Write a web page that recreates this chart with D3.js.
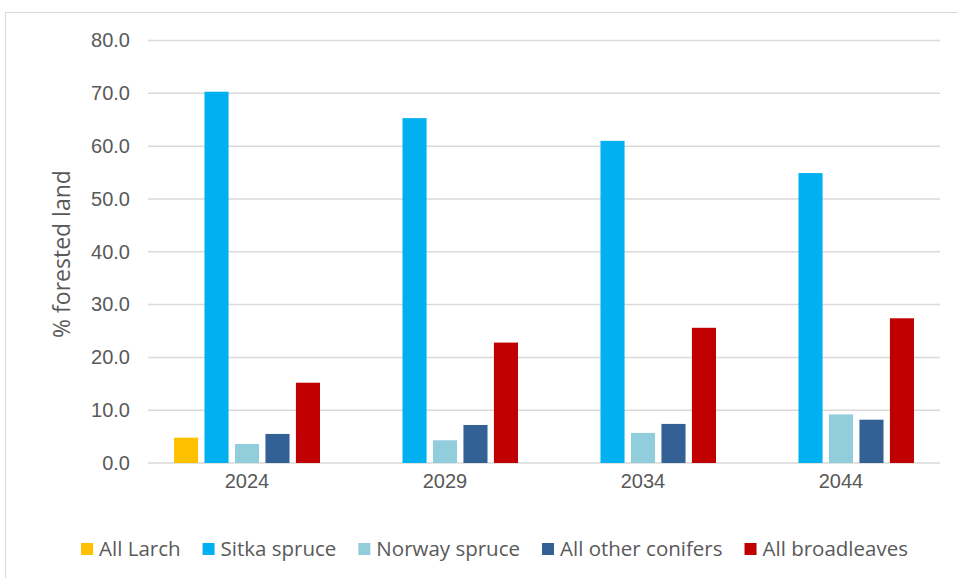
<!DOCTYPE html>
<html>
<head>
<meta charset="utf-8">
<script src="https://cdn.jsdelivr.net/npm/d3@7"></script>
<style>
	body { margin: 0; background: #fff; }
	svg { display: block; font-family: 'Open Sans', 'Noto Sans', sans-serif; }
</style>
</head>
<body>
<div id="chart"></div>
<script>
// Chart data
var years = ['2024', '2029', '2034', '2044'];
var species = ['All Larch', 'Sitka spruce', 'Norway spruce', 'All other conifers', 'All broadleaves'];
var colors = ['#ffc000', '#00b0f0', '#92cddc', '#336195', '#c00000'];
var larch = [4.8, 0, 0, 0];
var sitka = [70.3, 65.3, 61.0, 54.9];
var norway = [3.6, 4.3, 5.7, 9.2];
var otherConifers = [5.5, 7.2, 7.4, 8.2];
var broadleaves = [15.2, 22.8, 25.6, 27.4];
var yTicks = [0, 10, 20, 30, 40, 50, 60, 70, 80];

var seriesValues = [larch, sitka, norway, otherConifers, broadleaves];

(function() {
	var width = 958, height = 578;
	var margin = { top: 40.5, left: 148, right: 18, bottom: 115 };
	var innerW = width - margin.left - margin.right,
		innerH = height - margin.top - margin.bottom;

	var svg = d3.select('#chart').append('svg')
		.attr('width', width)
		.attr('height', height);

	// Chart frame
	svg.append('rect')
		.attr('x', 5.5).attr('y', 12.5)
		.attr('width', 1000).attr('height', 700)
		.attr('fill', 'none')
		.attr('stroke', '#d9d9d9');

	var g = svg.append('g')
		.attr('transform', 'translate(' + margin.left + ',' + margin.top + ')');

	var x0 = d3.scaleBand().domain(years).range([0, innerW]).paddingInner(0).paddingOuter(0);
	var groupW = 146;
	var x1 = d3.scaleBand().domain(species)
		.range([(x0.bandwidth() - groupW) / 2, (x0.bandwidth() + groupW) / 2])
		.paddingInner(0.21);
	var y = d3.scaleLinear().domain([0, 80]).range([innerH, 0]);

	// Grid lines
	g.append('g')
		.selectAll('line')
		.data(yTicks)
		.enter().append('line')
		.attr('x1', 0).attr('x2', innerW)
		.attr('y1', function(d) { return y(d); })
		.attr('y2', function(d) { return y(d); })
		.attr('stroke', '#d9d9d9')
		.attr('stroke-width', 1.5);

	// y-axis
	var yAxis = d3.axisLeft(y).tickValues(yTicks).tickSize(0).tickPadding(18)
		.tickFormat(d3.format('.1f'));
	var gy = g.append('g').call(yAxis);
	gy.select('.domain').remove();
	gy.selectAll('text')
		.attr('fill', '#595959')
		.style('font-size', '20px');

	// x-axis
	var xAxis = d3.axisBottom(x0).tickSize(0).tickPadding(11);
	var gx = g.append('g').attr('transform', 'translate(0,' + innerH + ')').call(xAxis);
	gx.select('.domain').remove();
	gx.selectAll('text')
		.attr('fill', '#595959')
		.style('font-size', '20px');

	// Bars
	var groups = g.append('g').selectAll('g')
		.data(years)
		.enter().append('g')
		.attr('transform', function(d) { return 'translate(' + x0(d) + ',0)'; });

	groups.selectAll('rect')
		.data(function(yr, i) {
			return species.map(function(s, j) {
				return { key: s, value: seriesValues[j][i], color: colors[j] };
			});
		})
		.enter().append('rect')
		.filter(function(d) { return d.value > 0; })
		.attr('x', function(d) { return x1(d.key); })
		.attr('width', x1.bandwidth())
		.attr('y', function(d) { return y(d.value); })
		.attr('height', function(d) { return y(0) - y(d.value); })
		.attr('fill', function(d) { return d.color; });

	// y title
	svg.append('text')
		.attr('transform', 'translate(70,254) rotate(-90)')
		.attr('text-anchor', 'middle')
		.attr('fill', '#595959')
		.style('font-size', '23px')
		.text('% forested land');

	// Legend
	var legend = svg.append('g');
	var items = legend.selectAll('g')
		.data(species)
		.enter().append('g');
	items.append('rect')
		.attr('width', 12).attr('height', 12)
		.attr('y', -13)
		.attr('fill', function(d, i) { return colors[i]; });
	items.append('text')
		.attr('x', 18)
		.attr('fill', '#595959')
		.style('font-size', '20.5px')
		.text(function(d) { return d; });
	var gap = 22, pos = 0;
	items.each(function() {
		var w = this.getBBox().width;
		d3.select(this).attr('transform', 'translate(' + pos + ',0)');
		pos += w + gap;
	});
	var totalW = pos - gap;
	legend.attr('transform', 'translate(' + (494.5 - totalW / 2) + ',556)');
})();
</script>
</body>
</html>
